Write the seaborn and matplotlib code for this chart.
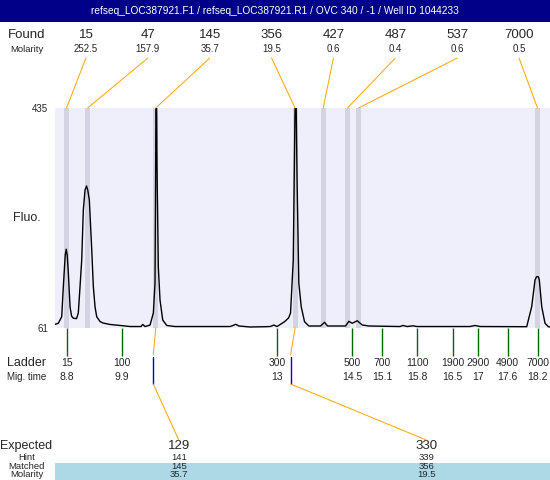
import matplotlib
matplotlib.use("Agg")
import matplotlib.pyplot as plt
import seaborn as sns
from matplotlib.patches import Rectangle

sns.set_theme(style="white")
plt.rcParams["font.family"] = ["Liberation Sans", "DejaVu Sans"]

title = "refseq_LOC387921.F1 / refseq_LOC387921.R1 / OVC 340 / -1 / Well ID 1044233"

# found peaks (size, molarity, migration time)
found_size = [15, 47, 145, 356, 427, 487, 537, 7000]
found_molarity = [252.5, 157.9, 35.7, 19.5, 0.6, 0.4, 0.6, 0.5]
found_time = [8.8, 9.22, 10.58, 13.36, 13.92, 14.405, 14.625, 18.196]

# ladder
ladder_size = [15, 100, 300, 500, 700, 1100, 1900, 2900, 4900, 7000]
ladder_time = [8.8, 9.9, 13, 14.5, 15.1, 15.8, 16.5, 17, 17.6, 18.2]

# expected table
expected_size = [129, 330]
expected_time = [10.53, 13.27]
hint_size = [141, 339]
matched_size = [145, 356]
matched_molarity = [35.7, 19.5]

# electropherogram trace
trace_time = [8.571, 8.636, 8.704, 8.736, 8.774, 8.794, 8.814, 8.836, 8.870, 8.90,
              8.936, 9.0, 9.035, 9.069, 9.103, 9.135, 9.169, 9.199, 9.223, 9.255,
              9.303, 9.335, 9.369, 9.402, 9.468, 9.528, 9.668, 9.867, 10.067, 10.286,
              10.320, 10.366, 10.466, 10.532, 10.565, 10.575, 10.585, 10.595, 10.605, 10.631,
              10.665, 10.719, 10.799, 10.964, 11.463, 12.062, 12.122, 12.175, 12.241, 12.461,
              12.760, 12.860, 12.940, 13.0, 13.149, 13.229, 13.269, 13.323, 13.349, 13.362,
              13.378, 13.40, 13.434, 13.482, 13.548, 13.634, 13.867, 13.947, 14.007, 14.366,
              14.432, 14.500, 14.599, 14.699, 14.831, 15.453, 15.513, 15.593, 15.712, 15.792,
              16.849, 16.949, 17.049, 17.980, 18.080, 18.146, 18.176, 18.212, 18.232, 18.280,
              18.346, 18.412, 18.446]
trace_fluo = [67.3, 69, 80.2, 131, 185, 195, 185, 154.5, 97.2, 81.4,
              77.5, 77, 86.5, 131, 176.6, 261.6, 295.6, 302.4, 295.6, 278.6,
              193.6, 131, 96.7, 80.2, 72, 69.5, 67, 65.3, 63.5, 63.5,
              67, 63.5, 66, 86.5, 137.5, 278.6, 460, 460, 336.4, 165.2,
              108.6, 74.6, 65.3, 63.5, 63.5, 63.5, 65.3, 67.3, 64.4, 62.7,
              63.2, 63.5, 66, 63.5, 71.7, 78, 86.5, 176.6, 363.6, 460,
              460, 307.5, 137.5, 97.2, 71.7, 64.4, 64.4, 70.7, 64.4, 64.4,
              72.4, 69, 73.4, 66.1, 64.4, 63.5, 65.3, 63.5, 64.7, 63.5,
              63.5, 65.3, 63.5, 63.2, 97.2, 142.6, 148.2, 148.2, 142.6, 97.2,
              69, 63.2, 62.7]

orange = "#FFA500"
green = "#006400"

fig = plt.figure(figsize=(5.5, 4.8), dpi=100)
fig.patch.set_facecolor("white")
ax = fig.add_axes([55 / 550, 152 / 480, 495 / 550, 220 / 480])
ax.set_facecolor("#EFEFFC")

for t in found_time:
    ax.axvspan(t - 0.05, t + 0.05, color="#D3D3E1", lw=0, zorder=1)

sns.lineplot(x=trace_time, y=trace_fluo, color="black", linewidth=1.0,
             estimator=None, ax=ax, zorder=3)

ax.set_xlim(8.57, 18.445)
ax.set_ylim(61, 435)
ax.set_xticks([])
ax.set_yticks([61, 435])
ax.set_yticklabels(["61", "435"], fontsize=7)
ax.tick_params(axis="y", length=0, pad=5)
ax.set_xlabel("")
ax.set_ylabel("Fluo.", rotation=0, fontsize=9, ha="center", va="center")
ax.yaxis.set_label_coords(-0.057, 0.5)
sns.despine(ax=ax, left=True, bottom=True, top=True, right=True)

# title bar
fig.add_artist(Rectangle((0, 1 - 22 / 480), 1, 22 / 480, transform=fig.transFigure,
                         color="#000088", lw=0))
fig.text(0.5, 1 - 11 / 480, title, color="white", fontsize=7.3,
         ha="center", va="center")

# found row
n = len(found_size)
ax.text(-0.057, 1.332, "Found", transform=ax.transAxes, fontsize=9.5, ha="center", va="center")
ax.text(-0.057, 1.268, "Molarity", transform=ax.transAxes, fontsize=6.8, ha="center", va="center")
for i, (s, m, t) in enumerate(zip(found_size, found_molarity, found_time)):
    cx = (i + 0.5) / n
    ax.text(cx, 1.332, str(s), transform=ax.transAxes, fontsize=9.5, ha="center", va="center")
    ax.text(cx, 1.268, f"{m:g}", transform=ax.transAxes, fontsize=7, ha="center", va="center")
    ax.annotate("", xy=(t, 1.0), xycoords=ax.get_xaxis_transform(),
                xytext=(cx, 1.227), textcoords="axes fraction",
                arrowprops=dict(arrowstyle="-", color=orange, lw=0.7,
                                shrinkA=0, shrinkB=0), annotation_clip=False)

# ladder row
xt = ax.get_xaxis_transform()
ax.vlines(ladder_time, -0.127, 0, transform=xt, colors=green, lw=1, clip_on=False)
ax.text(-0.057, -0.159, "Ladder", transform=ax.transAxes, fontsize=9, ha="center", va="center")
ax.text(-0.057, -0.223, "Mig. time", transform=ax.transAxes, fontsize=7, ha="center", va="center")
for s, t in zip(ladder_size, ladder_time):
    ax.text(t, -0.159, str(s), transform=xt, fontsize=7.5, ha="center", va="center")
    ax.text(t, -0.223, f"{t:g}", transform=xt, fontsize=7.5, ha="center", va="center")

# expected table
k = len(expected_size)
ax.add_patch(Rectangle((0, -0.691), 1, 0.077, transform=ax.transAxes,
                       color="#ADD8E6", lw=0, clip_on=False))
ax.text(-0.058, -0.5345, "Expected", transform=ax.transAxes, fontsize=9, ha="center", va="center")
ax.text(-0.057, -0.588, "Hint", transform=ax.transAxes, fontsize=6.8, ha="center", va="center")
ax.text(-0.057, -0.630, "Matched", transform=ax.transAxes, fontsize=6.8, ha="center", va="center")
ax.text(-0.057, -0.668, "Molarity", transform=ax.transAxes, fontsize=6.8, ha="center", va="center")
for j in range(k):
    cx = (j + 0.5) / k
    peak_t = found_time[found_size.index(matched_size[j])]
    et = expected_time[j]
    ax.text(cx, -0.5345, str(expected_size[j]), transform=ax.transAxes, fontsize=9.5, ha="center", va="center")
    ax.text(cx, -0.588, str(hint_size[j]), transform=ax.transAxes, fontsize=6.8, ha="center", va="center")
    ax.text(cx, -0.630, str(matched_size[j]), transform=ax.transAxes, fontsize=6.8, ha="center", va="center")
    ax.text(cx, -0.668, f"{matched_molarity[j]:g}", transform=ax.transAxes, fontsize=6.8, ha="center", va="center")
    ax.plot([peak_t, et], [0, -0.123], transform=xt, color=orange, lw=0.7, clip_on=False)
    ax.plot([et, et], [-0.132, -0.2545], transform=xt, color="#0000CC", lw=1, clip_on=False)
    ax.annotate("", xy=(et, -0.2545), xycoords=xt,
                xytext=(cx, -0.509), textcoords="axes fraction",
                arrowprops=dict(arrowstyle="-", color=orange, lw=0.7,
                                shrinkA=0, shrinkB=0), annotation_clip=False)

fig.savefig("out.png", dpi=100)
